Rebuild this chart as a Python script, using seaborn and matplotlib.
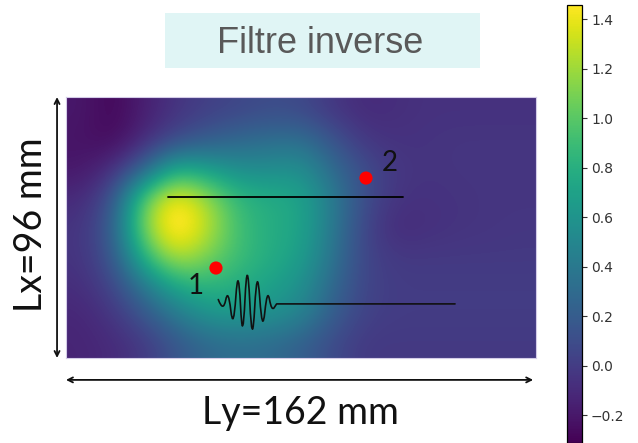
import numpy as np
import pandas as pd
import matplotlib
matplotlib.use("Agg")
import matplotlib.pyplot as plt
from matplotlib.patches import Rectangle, PathPatch
from matplotlib.path import Path
import seaborn as sns

# ---- data ---------------------------------------------------------------
plate_width_mm = 162   # Ly
plate_height_mm = 96   # Lx

# field values on a 9 x 15 grid (rows top->bottom, columns left->right)
field_rows = [
    [-0.20, -0.29, -0.16, -0.05, 0.02, 0.06, 0.10, 0.08, -0.03, -0.10, -0.08, -0.06, -0.06, -0.06, -0.06],
    [-0.22, -0.27, -0.10, 0.08, 0.20, 0.28, 0.32, 0.34, 0.15, -0.03, -0.06, -0.05, -0.04, -0.04, -0.04],
    [-0.20, -0.08, 0.25, 0.80, 0.68, 0.55, 0.55, 0.58, 0.30, 0.10, -0.03, -0.05, -0.04, -0.04, -0.04],
    [-0.10, 0.12, 1.05, 1.50, 1.20, 0.85, 0.78, 0.72, 0.42, 0.10, -0.05, -0.06, -0.05, -0.04, -0.04],
    [-0.05, 0.20, 1.15, 1.60, 1.30, 0.90, 0.78, 0.72, 0.40, 0.05, -0.10, -0.07, -0.05, -0.04, -0.03],
    [-0.05, 0.15, 0.85, 1.30, 1.10, 0.90, 0.78, 0.68, 0.36, 0.05, -0.02, -0.02, -0.02, -0.02, -0.02],
    [-0.08, 0.05, 0.40, 0.75, 0.85, 0.78, 0.70, 0.58, 0.28, 0.05, 0.00, 0.00, 0.00, 0.00, 0.00],
    [-0.12, -0.04, 0.15, 0.40, 0.60, 0.64, 0.58, 0.48, 0.20, 0.03, 0.00, 0.00, 0.00, 0.00, 0.00],
    [-0.13, -0.10, -0.02, 0.15, 0.28, 0.32, 0.30, 0.22, 0.08, -0.02, -0.02, -0.02, -0.02, -0.02, -0.02],
]
color_min = -0.313
color_max = 1.457
cbar_ticks = [-0.2, 0.0, 0.2, 0.4, 0.6, 0.8, 1.0, 1.2, 1.4]

# sensor points (mm along Ly, mm along Lx from top)
sensor_labels = ["1", "2"]
sensor_y_mm = [51.7, 103.4]
sensor_x_mm = [62.9, 29.8]
label_y_mm = [44.8, 111.7]
label_x_mm = [69.5, 24.3]

# upper straight path
path_y_mm = [35.2, 116.2]
path_x_mm = [36.8, 36.8]

# wave packet (extremes) followed by its straight path
wave_base_x_mm = 76.1
wave_y_mm = [52.5, 54.2, 55.9, 57.7, 59.4, 60.9, 62.5, 64.2, 65.9, 67.7, 69.4, 70.9, 72.6, 134.1]
wave_x_mm = [75.3, 77.7, 73.1, 81.4, 68.2, 84.5, 66.1, 85.3, 68.2, 82.0, 73.1, 77.5, 76.1, 76.1]

title_text = "Filtre inverse"
lx_text = "Lx=96 mm"
ly_text = "Ly=162 mm"

# ---- style ---------------------------------------------------------------
sns.set_theme(style="white")
plt.rcParams["font.family"] = ["DejaVu Sans"]

fig = plt.figure(figsize=(6.38, 4.43), dpi=100)
fig.patch.set_facecolor("white")

# title box
fig.patches.append(Rectangle((165 / 638, 1 - 68 / 443), 315 / 638, 55 / 443,
                             transform=fig.transFigure, facecolor="#e0f5f5",
                             edgecolor="none", zorder=0))
fig.text(0.5016, 0.902, title_text, fontsize=26, color="#595959",
         family="Liberation Sans", ha="center", va="center")

ax = fig.add_axes([0.1034, 0.1919, 0.7367, 0.589])
Z = np.array(field_rows)
im = ax.imshow(Z, extent=[0, plate_width_mm, plate_height_mm, 0], cmap="viridis",
               vmin=color_min, vmax=color_max, interpolation="bicubic", aspect="auto")
ax.set_xticks([])
ax.set_yticks([])
for s in ax.spines.values():
    s.set_color("#d4cce8")
    s.set_linewidth(0.8)

# upper path
path_df = pd.DataFrame({"y": path_y_mm, "x": path_x_mm})
sns.lineplot(data=path_df, x="y", y="x", ax=ax, color="black", lw=1.3,
             sort=False, estimator=None)

# wave packet drawn as a smooth quadratic B-spline through the read extremes
wy = np.array(wave_y_mm)
wx = np.array(wave_x_mm)
ctrl_x = wave_base_x_mm + 2.0 * (wx - wave_base_x_mm)
ctrl = np.column_stack([wy, ctrl_x])
verts = [tuple(ctrl[0])]
codes = [Path.MOVETO]
for i in range(1, len(ctrl) - 2):
    mid = (ctrl[i] + ctrl[i + 1]) / 2.0
    verts += [tuple(ctrl[i]), tuple(mid)]
    codes += [Path.CURVE3, Path.CURVE3]
verts += [(wy[-2], wave_base_x_mm), (wy[-1], wave_base_x_mm)]
codes += [Path.LINETO, Path.LINETO]
ax.add_patch(PathPatch(Path(verts, codes), facecolor="none", edgecolor="#111111",
                       lw=1.2, capstyle="round", joinstyle="round", zorder=4))

# sensors
sens_df = pd.DataFrame({"y": sensor_y_mm, "x": sensor_x_mm})
sns.scatterplot(data=sens_df, x="y", y="x", ax=ax, color="#ff0000", s=90,
                edgecolor="none", zorder=5)
for lab, yy, xx in zip(sensor_labels, label_y_mm, label_x_mm):
    ax.text(yy, xx, lab, fontsize=20, family="Lato", color="#111111",
            ha="center", va="center")
ax.set_xlabel("")
ax.set_ylabel("")
ax.set_xlim(0, plate_width_mm)
ax.set_ylim(plate_height_mm, 0)

# dimension arrows
arrow_kw = dict(arrowstyle="<->", lw=1.3, color="#111111", shrinkA=0, shrinkB=0,
                mutation_scale=9)
ax.annotate("", xy=(-0.019, 0.0), xytext=(-0.019, 1.0), xycoords="axes fraction",
            arrowprops=arrow_kw, annotation_clip=False)
ax.annotate("", xy=(0.0, -0.084), xytext=(0.994, -0.084), xycoords="axes fraction",
            arrowprops=arrow_kw, annotation_clip=False)
ax.text(-0.074, 0.51, lx_text, rotation=90, transform=ax.transAxes, ha="center",
        va="center", fontsize=27, family="Lato", color="#111111")
ax.text(0.498, -0.212, ly_text, transform=ax.transAxes, ha="center",
        va="center", fontsize=27, family="Lato", color="#111111")

# colorbar
cax = fig.add_axes([0.8887, 0.0, 0.0235, 0.9887])
cb = fig.colorbar(im, cax=cax, ticks=cbar_ticks)
cb.outline.set_edgecolor("black")
cb.outline.set_linewidth(0.9)
cax.tick_params(axis="y", length=3.5, width=0.8, colors="#333333", labelsize=10,
                direction="out", right=True, left=False, pad=3)

fig.savefig("out.png", dpi=100)
